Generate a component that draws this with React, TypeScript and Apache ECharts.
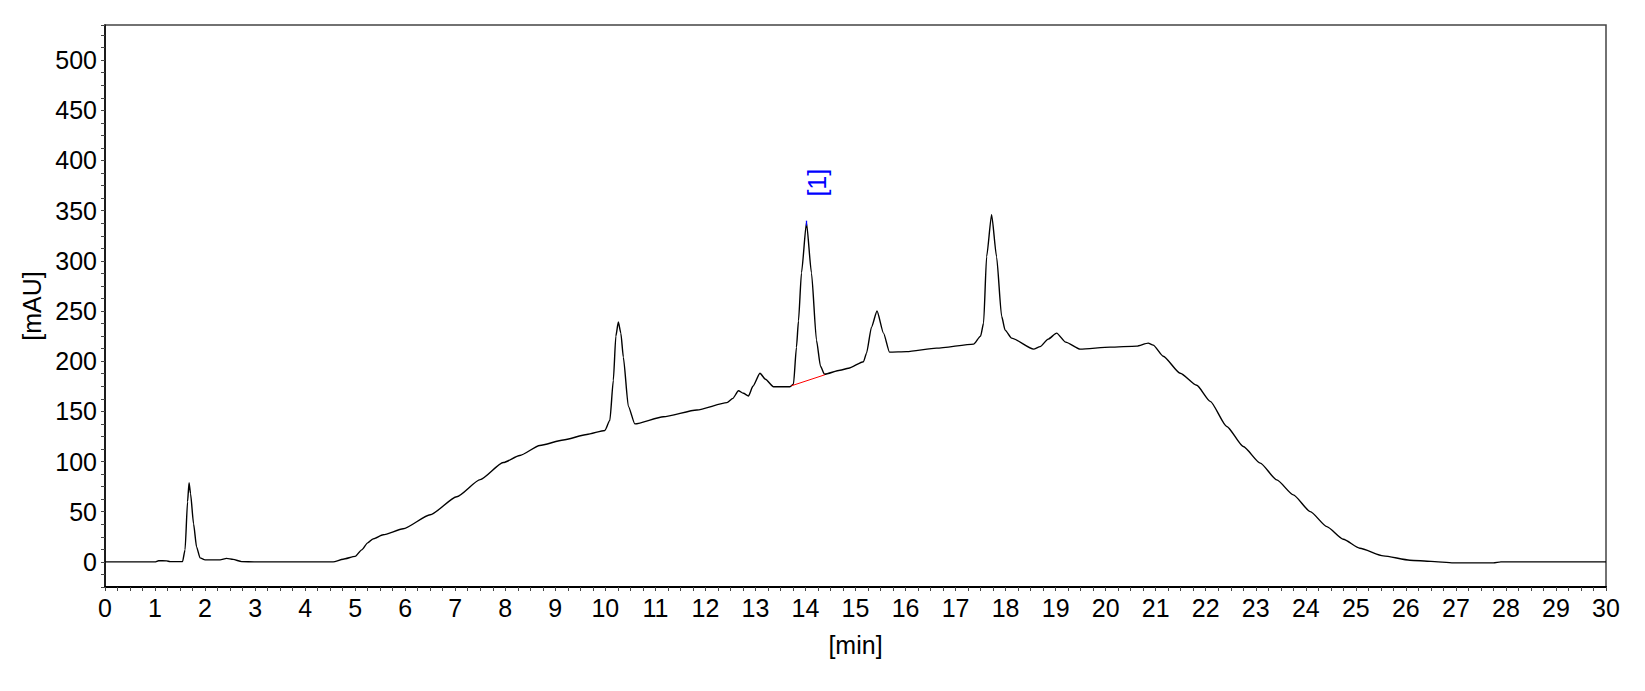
import { useEffect, useRef } from 'react';
import * as echarts from 'echarts';

// retention time [min] and detector signal [mAU]
const TIME_MIN = [
  0, 1.0, 1.07, 1.23, 1.3, 1.55, 1.6, 1.65, 1.68, 1.71, 1.77, 1.83, 1.9, 2.0, 2.3, 2.43, 2.56, 2.73, 3.0,
  4.56, 4.76, 5.0, 5.13, 5.25, 5.36, 5.56, 5.96, 6.5, 7.03, 7.5, 7.96, 8.29, 8.69, 9.16, 9.63, 9.99,
  10.09, 10.16, 10.21, 10.26, 10.31, 10.36, 10.46, 10.59, 11.16, 11.83, 12.43, 12.55, 12.66, 12.76, 12.86,
  12.95, 13.09, 13.2, 13.36, 13.69, 13.76, 13.82, 13.86, 13.92, 14.02, 14.12, 14.22, 14.3, 14.38, 14.69,
  14.86, 15.16, 15.22, 15.32, 15.43, 15.56, 15.68, 16.02, 16.62, 17.36, 17.5, 17.56, 17.62, 17.72, 17.82,
  17.92, 17.99, 18.12, 18.56, 18.69, 18.85, 19.02, 19.2, 19.49, 20.09, 20.62, 20.85, 20.95, 21.15, 21.49,
  21.82, 22.09, 22.42, 22.75, 23.09, 23.42, 23.75, 24.09, 24.42, 24.75, 25.08, 25.55, 26.08, 26.5, 26.95,
  27.75, 27.9, 30,
];
const SIGNAL_MAU = [
  0, 0, 1.2, 1, 0.3, 0.3, 12, 60, 79, 68, 38, 15, 4, 2, 2, 3.5, 2.5, 0.3, 0,
  0, 2.7, 5.5, 12, 19, 23, 27, 33, 47, 65, 82, 99, 106, 116, 121.5, 127, 131,
  141, 181, 225, 239, 228, 204, 155, 137.5, 144.7, 151.4, 158.7, 163, 170.6, 168, 165.3,
  175, 188, 182, 174.6, 174.6, 177, 214, 240, 288, 338, 288, 221, 195, 187, 191,
  193, 199.5, 208, 234, 250, 228, 209, 209.5, 213, 217, 225, 238, 304, 346, 304,
  245, 231, 223, 212, 214.5, 222, 228, 219, 212, 214, 215, 218, 216, 205, 188,
  176, 160, 135, 115, 98.4, 81.7, 66.8, 50.1, 35.2, 22.6, 13.6, 6, 1.7, 0.5, -1,
  -1, 0, 0,
];

const PEAK_NAMES = ['[1]'];
const PEAK_TIMES = [14.02];
const PEAK_HEIGHTS = [338];
const PEAK_BASE_START = [13.72, 175.5];
const PEAK_BASE_END = [14.39, 186.5];

const Y_MIN = -25;
const Y_MAX = 535;
const Y_LABEL_STEP = 50;
const Y_LABEL_TOP = 500;

export default function App() {
  const chartRef = useRef<HTMLDivElement>(null);

  useEffect(() => {
    if (!chartRef.current) return;
    const chart = echarts.init(chartRef.current, undefined, { renderer: 'svg' });
    const font = "'Liberation Sans', Arial, sans-serif";

    const trace = TIME_MIN.map((t, i) => [t, SIGNAL_MAU[i]]);

    const option: echarts.EChartsOption = {
      animation: false,
      backgroundColor: '#fff',
      grid: {
        left: 105,
        right: 39,
        top: 25,
        bottom: 104,
        show: true,
        borderColor: '#444',
        borderWidth: 1.5,
        backgroundColor: 'transparent',
      },
      xAxis: {
        type: 'value',
        min: 0,
        max: 30,
        interval: 1,
        name: '[min]',
        nameLocation: 'middle',
        nameGap: 45,
        nameTextStyle: { color: '#000', fontSize: 25, fontFamily: font },
        axisLine: { onZero: false, lineStyle: { color: '#000', width: 2 } },
        axisTick: { length: 4, lineStyle: { color: '#444', width: 1 } },
        minorTick: { show: true, splitNumber: 4, length: 4, lineStyle: { color: '#444', width: 1 } },
        axisLabel: { color: '#000', fontSize: 25, fontFamily: font, margin: 8 },
        splitLine: { show: false },
      },
      yAxis: {
        type: 'value',
        min: Y_MIN,
        max: Y_MAX,
        interval: 12.5,
        name: '[mAU]',
        nameLocation: 'middle',
        nameGap: 60,
        nameTextStyle: { color: '#000', fontSize: 25, fontFamily: font },
        axisLine: { onZero: false, lineStyle: { color: '#000', width: 1.5 } },
        axisTick: { length: 4, lineStyle: { color: '#444', width: 1 } },
        axisLabel: {
          color: '#000',
          fontSize: 25,
          fontFamily: font,
          margin: 8,
          formatter: (v: number) =>
            v >= 0 && v <= Y_LABEL_TOP && Math.abs(v % Y_LABEL_STEP) < 1e-6 ? String(v) : '',
        },
        splitLine: { show: false },
      },
      series: [
        {
          type: 'line',
          data: trace,
          showSymbol: false,
          smooth: 0.2,
          smoothMonotone: 'x',
          lineStyle: { color: '#000', width: 1.4 },
          silent: true,
          markLine: {
            silent: true,
            symbol: ['none', 'none'],
            label: { show: false },
            data: [
              [
                { coord: PEAK_BASE_START, lineStyle: { color: '#ff0000', width: 1, type: 'solid' } },
                { coord: PEAK_BASE_END },
              ],
              [
                { coord: [PEAK_TIMES[0], PEAK_HEIGHTS[0] + 2], lineStyle: { color: '#0000ff', width: 1.3, type: 'solid' } },
                { coord: [PEAK_TIMES[0], PEAK_HEIGHTS[0] - 3] },
              ],
            ],
          },
          markPoint: {
            silent: true,
            symbol: 'circle',
            symbolSize: 1,
            itemStyle: { color: 'transparent' },
            label: {
              show: true,
              position: 'inside',
              rotate: 90,
              offset: [40, 11],
              color: '#0000ff',
              fontSize: 25,
              fontFamily: font,
              formatter: (p: any) => p.name,
            },
            data: PEAK_NAMES.map((name, i) => ({ name, coord: [PEAK_TIMES[i], PEAK_HEIGHTS[i]] })),
          },
        },
      ],
    };

    chart.setOption(option);
    return () => chart.dispose();
  }, []);

  return (
    <div
      ref={chartRef}
      style={{ position: 'absolute', left: 0, top: 0, width: 1645, height: 691 }}
    />
  );
}
